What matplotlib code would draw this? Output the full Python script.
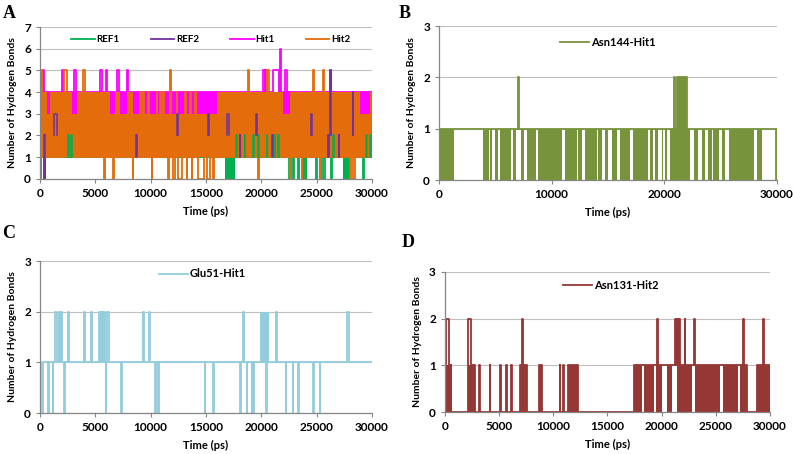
import matplotlib
matplotlib.use('Agg')
import matplotlib.pyplot as plt
import numpy as np

plt.rcParams['font.family'] = ['Lato', 'DejaVu Sans']
plt.rcParams['font.weight'] = 'bold'

T_END = 30000

# ---- Panel A: four series (base level + excursions (t0, t1, level)), dense bands (t0, t1, lo, hi)
ref1_base = 1
ref1_events = [(0, 60, 0), (2540, 2590, 2), (2840, 2890, 2), (17750, 17800, 2), (18070, 18120, 2),
               (18520, 18570, 2), (19280, 19330, 2), (19730, 19780, 2), (20480, 20530, 2), (21230, 21280, 2),
               (21530, 21580, 2), (22550, 22650, 0), (22900, 22980, 0), (23300, 23380, 0), (24950, 25050, 0),
               (25300, 25400, 0), (25600, 25750, 0), (26050, 26100, 2), (26300, 26400, 0), (26500, 26550, 2),
               (29200, 29300, 0), (29500, 29550, 2), (29820, 29880, 2)]
ref1_bands = [(16700, 17600, 0, 1), (23800, 24100, 0, 1), (24100, 24550, 1, 2), (27400, 28000, 0, 1)]

ref2_base = 2
ref2_events = [(390, 470, 0), (1250, 1500, 3), (8700, 8760, 1), (12400, 12500, 3), (15200, 15250, 3),
               (16900, 17100, 3), (18070, 18120, 1), (19550, 19600, 3), (21000, 21060, 1), (24500, 24550, 3),
               (26050, 26100, 1), (26200, 26300, 5), (27000, 27050, 1), (28250, 28300, 4)]
ref2_bands = []

hit1_base = 4
hit1_events = [(240, 360, 5), (1960, 2110, 5), (3070, 3250, 5), (5420, 5570, 5), (5960, 6080, 5),
               (7000, 7100, 5), (7830, 7980, 5), (20150, 20300, 5), (20330, 20480, 5), (21100, 21600, 5),
               (21720, 21820, 6), (22140, 22290, 5)]
hit1_bands = [(0, 30000, 1, 4)]

hit2_base = 1
hit2_events = [(90, 210, 5), (2200, 2410, 5), (3920, 4100, 5), (5810, 5900, 0), (6570, 6690, 0),
               (8370, 8430, 0), (9040, 9100, 4), (9340, 9400, 4), (9790, 9850, 4), (10090, 10150, 0),
               (10540, 10600, 4), (10840, 10900, 4), (11140, 11200, 4), (11600, 11650, 0), (11750, 11820, 5),
               (12050, 12200, 0), (12350, 12420, 4), (12500, 12800, 0), (13100, 13160, 4), (13250, 13310, 0),
               (13550, 13610, 4), (13700, 13760, 0), (14000, 14060, 4), (14310, 14820, 0), (15060, 15360, 0),
               (15660, 15720, 0), (18820, 18900, 5), (19730, 19790, 0), (20480, 20660, 5), (22590, 22680, 0),
               (23640, 23700, 0), (24640, 24760, 5), (25300, 25360, 0), (25540, 25660, 5), (28010, 28070, 0),
               (28310, 28460, 0)]
hit2_bands = [(0, 30000, 1, 3), (0, 600, 1, 4), (900, 2860, 1, 4), (3310, 6330, 1, 4), (6780, 7230, 1, 4),
              (7830, 8430, 1, 4), (15960, 21990, 1, 4), (22590, 28920, 1, 4), (29820, 30000, 1, 4)]

# ---- Panel B: Asn144-Hit1
asn144_base = 1
asn144_events = [(7030, 7110, 2), (20850, 20930, 2), (21100, 22000, 2), (29940, 30000, 0)]
asn144_bands = [(0, 1300, 0, 1), (3910, 4450, 0, 1), (4560, 4740, 0, 1), (4950, 5250, 0, 1), (5390, 6430, 0, 1),
                (6580, 6790, 0, 1), (7320, 7530, 0, 1), (7770, 8300, 0, 1), (8360, 8650, 0, 1),
                (8800, 10880, 0, 1), (11170, 12210, 0, 1), (12360, 12660, 0, 1), (12950, 13990, 0, 1),
                (14140, 14430, 0, 1), (14730, 15030, 0, 1), (15320, 15770, 0, 1), (16070, 16950, 0, 1),
                (17250, 18580, 0, 1), (18730, 19030, 0, 1), (19180, 19470, 0, 1), (19770, 19920, 0, 1),
                (20070, 20210, 0, 1), (20510, 22000, 0, 1), (21100, 22000, 1, 2), (22050, 22290, 0, 1),
                (22590, 23030, 0, 1), (23330, 23620, 0, 1), (23920, 24220, 0, 1), (24360, 24810, 0, 1),
                (25100, 25400, 0, 1), (25700, 27920, 0, 1), (28220, 28660, 0, 1)]

# ---- Panel C: Glu51-Hit1
glu51_base = 1
glu51_events = [(90, 300, 0), (700, 840, 0), (1150, 1200, 0), (1390, 1510, 2), (1750, 1830, 2), (1900, 1990, 2),
                (2150, 2290, 0), (2500, 2590, 2), (4000, 4090, 2), (4610, 4700, 2), (5360, 5420, 2),
                (5500, 5560, 2), (5600, 5660, 2), (5810, 5900, 2), (5960, 6010, 0), (6100, 6210, 2),
                (7350, 7420, 0), (9280, 9400, 2), (9820, 9940, 2), (10390, 10500, 0), (10680, 10780, 0),
                (14900, 14960, 0), (15640, 15700, 0), (18070, 18130, 0), (18310, 18430, 2), (18670, 18730, 0),
                (19130, 19200, 0), (19280, 19340, 0), (20450, 20500, 0), (21320, 21440, 2), (22200, 22260, 0),
                (22860, 22910, 0), (23320, 23380, 0), (24680, 24740, 0), (25280, 25340, 0), (27770, 27890, 2)]
glu51_bands = [(19880, 20690, 1, 2)]

# ---- Panel D: Asn131-Hit2 (change points)
asn131_t = [0, 150, 400, 460, 520, 600, 2150, 2370, 2770, 3140, 3200, 4120, 4180, 5110, 5170, 5660, 5720,
            6120, 6180, 6920, 7140, 7230, 7380, 7510, 7570, 8700, 8760, 8860, 8920, 10590, 10650, 10890,
            10950, 11390, 12250, 17470, 19570, 19630, 21260, 21320, 21440, 21500, 21600, 21660, 22120, 22180,
            22990, 23050, 27510, 27570, 27850, 28770, 29350, 29410, 30000]
asn131_v = [1, 2, 1, 0, 1, 0, 2, 1, 0, 1, 0, 1, 0, 1, 0, 1, 0,
            1, 0, 1, 2, 1, 0, 1, 0, 1, 0, 1, 0, 1, 0, 1,
            0, 1, 0, 1, 2, 1, 2, 1, 2, 1, 2, 1, 2, 1,
            2, 1, 2, 1, 0, 1, 2, 1, 1]
asn131_bands = [(0, 460, 0, 1), (2150, 2770, 0, 1), (6920, 7380, 0, 1), (11390, 12250, 0, 1),
                (17470, 18210, 0, 1), (18400, 19320, 0, 1), (19450, 20060, 0, 1), (20460, 20920, 0, 1),
                (21380, 22150, 0, 1), (22200, 22830, 0, 1), (23080, 25380, 0, 1), (25690, 27070, 0, 1),
                (27230, 27850, 0, 1), (28770, 30000, 0, 1)]


def to_steps(base, events):
    t, v = [0], [base]
    for t0, t1, lev in sorted(events):
        t += [t0, t1]
        v += [lev, base]
    t.append(T_END)
    v.append(v[-1])
    return np.array(t), np.array(v)


def draw(ax, t, v, bands, color, label, z=2):
    for t0, t1, lo, hi in bands:
        ax.fill_between([t0, t1], lo, hi, color=color, lw=0, zorder=z)
    ax.step(t, v, where='post', color=color, lw=1.3, label=label, zorder=z)


def peek(ax, base, events, color, z):
    # excursions of a background series that show through the series drawn over it
    for t0, t1, lev in events:
        ax.plot([t0, t0, t1, t1], [base, lev, lev, base], color=color, lw=1.1, zorder=z)


def style(ax, ymax, xstep, letter, lx, ly):
    ax.set_xlim(0, T_END)
    ax.set_ylim(0, ymax)
    ax.set_xticks(np.arange(0, T_END + 1, xstep))
    ax.set_yticks(np.arange(0, ymax + 1, 1))
    ax.yaxis.grid(True, color='#BFBFBF', lw=0.8)
    ax.set_axisbelow(True)
    for s in ['top', 'right']:
        ax.spines[s].set_visible(False)
    for s in ['left', 'bottom']:
        ax.spines[s].set_color('#868686')
        ax.spines[s].set_linewidth(0.9)
        ax.spines[s].set_zorder(10)
    ax.tick_params(axis='both', colors='#868686', labelcolor='black', labelsize=8.5, length=3, width=0.8)
    ax.set_xlabel('Time (ps)', fontsize=8, fontweight='bold', labelpad=5)
    ax.set_ylabel('Number of Hydrogen Bonds', fontsize=7.5, fontweight='bold', labelpad=5)
    ax.figure.text(lx, ly, letter, fontsize=13, fontweight='bold', family='Liberation Serif', va='top')


fig = plt.figure(figsize=(7.93, 4.54), dpi=100)

axA = fig.add_axes([0.0504, 0.606, 0.4186, 0.3345])
draw(axA, *to_steps(ref1_base, ref1_events), ref1_bands, '#00B050', 'REF1', 2)
draw(axA, *to_steps(ref2_base, ref2_events), ref2_bands, '#7030A0', 'REF2', 3)
draw(axA, *to_steps(hit1_base, hit1_events), hit1_bands, '#FF00FF', 'Hit1', 4)
draw(axA, *to_steps(hit2_base, hit2_events), hit2_bands, '#E46C0A', 'Hit2', 5)
peek(axA, ref1_base, [e for e in ref1_events if e[2] > ref1_base], '#00B050', 6)
peek(axA, ref2_base, ref2_events, '#7030A0', 6)
style(axA, 7, 5000, 'A', 0.003, 0.99)
axA.legend(loc='upper center', bbox_to_anchor=(0.515, 0.97), ncol=4, frameon=False, fontsize=7,
           handlelength=2.4, columnspacing=3.2, handletextpad=0.2, borderaxespad=0).set_zorder(20)

axB = fig.add_axes([0.5536, 0.6035, 0.4262, 0.3392])
draw(axB, *to_steps(asn144_base, asn144_events), asn144_bands, '#77933C', 'Asn144-Hit1')
style(axB, 3, 10000, 'B', 0.503, 0.99)
axB.legend(loc='upper center', bbox_to_anchor=(0.5, 0.96), frameon=False, fontsize=8,
           handlelength=2.6, handletextpad=0.2, borderaxespad=0)

axC = fig.add_axes([0.0504, 0.0903, 0.4186, 0.3348])
draw(axC, *to_steps(glu51_base, glu51_events), glu51_bands, '#93CDDD', 'Glu51-Hit1')
style(axC, 3, 5000, 'C', 0.003, 0.505)
axC.legend(loc='upper center', bbox_to_anchor=(0.49, 0.98), frameon=False, fontsize=8,
           handlelength=2.6, handletextpad=0.2, borderaxespad=0)

axD = fig.add_axes([0.561, 0.0925, 0.41, 0.3084])
draw(axD, np.array(asn131_t), np.array(asn131_v), asn131_bands, '#953735', 'Asn131-Hit2')
style(axD, 3, 5000, 'D', 0.507, 0.485)
axD.legend(loc='upper center', bbox_to_anchor=(0.51, 0.975), frameon=False, fontsize=8,
           handlelength=2.6, handletextpad=0.2, borderaxespad=0)

fig.savefig('out.png', dpi=100)
